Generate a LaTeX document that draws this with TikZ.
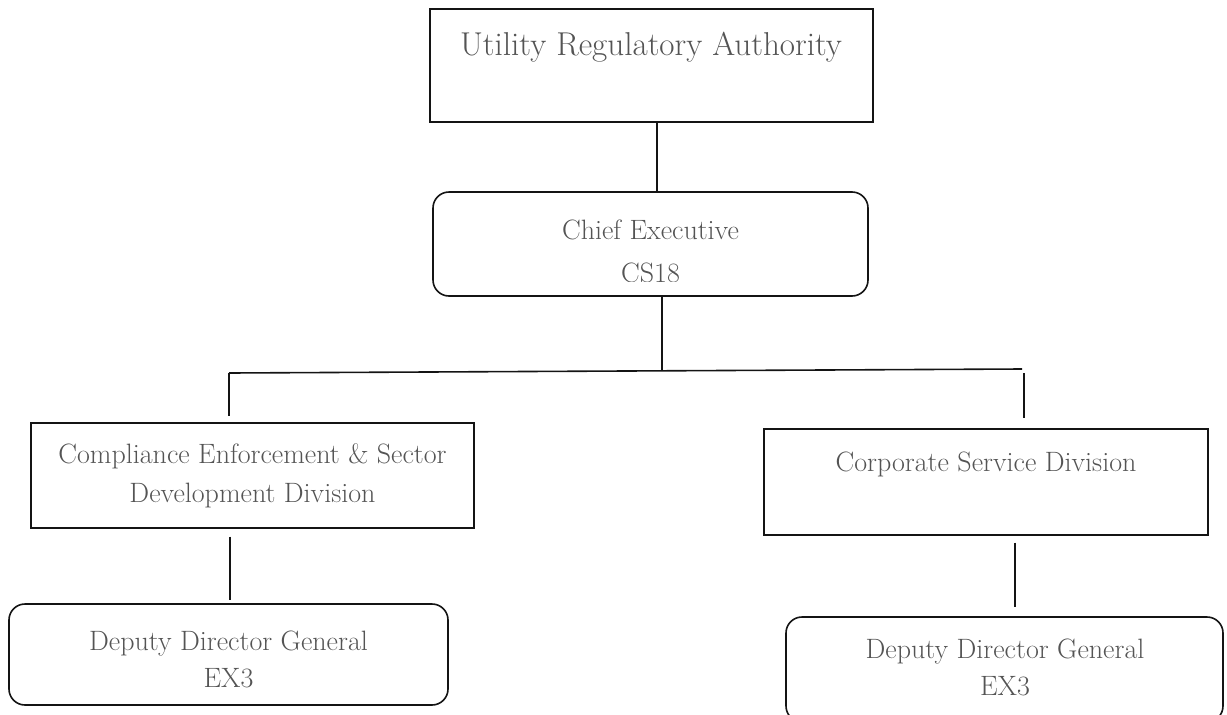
\documentclass[tikz,border=0pt]{standalone}
\usepackage{tikz}
\usetikzlibrary{positioning}
\definecolor{orgtext}{rgb}{0.33, 0.33, 0.33}
\definecolor{orgline}{rgb}{0.08, 0.08, 0.08}

\begin{document}
\begin{tikzpicture}[x=0.75pt, y=-0.75pt, line width=1pt,
	every node/.style={inner sep=0pt, text=orgtext},
	unitbox/.style={draw=orgline, rectangle},
	postbox/.style={draw=orgline, rectangle, rounded corners=12pt, line width=1.2pt},
	unittext/.style={anchor=base, align=center, font=\fontsize{21}{29.25}\selectfont},
	link/.style={draw=orgline, line width=1.2pt}]
\path[use as bounding box, clip] (0,0) rectangle (1227,714);

% authority
\node[unitbox, minimum width=443*0.75pt, minimum height=113*0.75pt] (ura) at (651.5,65.5) {};
\node[unittext, font=\fontsize{24.8}{30}\selectfont] (uraText) at (651,55) {Utility Regulatory Authority};

% chief executive (second line cut by its frame)
\node[postbox, minimum width=435*0.75pt, minimum height=104*0.75pt] (chief) at (650.5,244) {};
\begin{scope}
\clip (chief.north west) rectangle ([yshift=11.25pt]chief.south east);
\node[unittext, font=\fontsize{21}{32.25}\selectfont] (chiefText) at (650.5,282) {Chief Executive\\CS18};
\end{scope}

% divisions
\node[unitbox, minimum width=443*0.75pt, minimum height=105*0.75pt] (ced) at (252.5,475.5) {};
\node[unittext] (cedText) at (252.5,502) {Compliance Enforcement \& Sector\\Development Division};

\node[unitbox, minimum width=444*0.75pt, minimum height=106*0.75pt] (csd) at (986,482) {};
\node[unittext] (csdText) at (986,471) {Corporate Service Division};

% deputies
\node[postbox, minimum width=439*0.75pt, minimum height=101*0.75pt] (ddgL) at (228.5,654.5) {};
\node[unittext, font=\fontsize{21}{27.75}\selectfont] (ddgLText) at (228.5,687) {Deputy Director General\\EX3};

\node[postbox, minimum width=437*0.75pt, minimum height=105*0.75pt] (ddgR) at (1004.5,669.5) {};
\node[unittext, font=\fontsize{21}{27.75}\selectfont] (ddgRText) at (1005,695) {Deputy Director General\\EX3};

%% connectors
\coordinate (topLink) at (657,0);
\coordinate (midLink) at (662,0);
\coordinate (busMid) at (662,371);
\coordinate (busL) at (229,373);
\coordinate (busR) at (1022,369);
\coordinate (tickR) at (1024,373);
\coordinate (lowL) at (230,0);
\coordinate (lowR) at (1015,0);

\draw[link] (ura.south -| topLink) -- (chief.north -| topLink);
\draw[link] (chief.south -| midLink) -- (busMid);
\draw[link] (busL) -- (busR); % bus
\draw[link] (busL) -- ++(0,43);
\draw[link] (tickR) -- ++(0,45);

\draw[link] ([yshift=-6pt]ced.south -| lowL) -- ([yshift=2.25pt]ddgL.north -| lowL);
\draw[link] ([yshift=-5.25pt]csd.south -| lowR) -- ([yshift=6.75pt]ddgR.north -| lowR);
\end{tikzpicture}
\end{document}
